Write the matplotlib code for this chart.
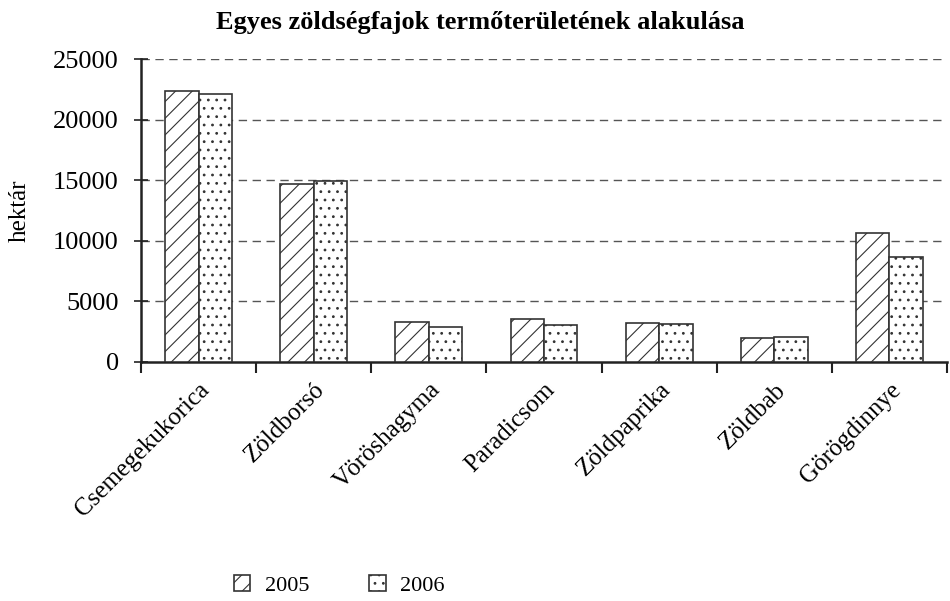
import numpy as np
import matplotlib
matplotlib.use("Agg")
import matplotlib.pyplot as plt

# adatok
kategoriak = ["Csemegekukorica", "Zöldborsó", "Vöröshagyma", "Paradicsom",
              "Zöldpaprika", "Zöldbab", "Görögdinnye"]
ev_2005 = [22400, 14700, 3300, 3550, 3250, 1950, 10650]
ev_2006 = [22100, 14900, 2900, 3050, 3100, 2050, 8650]
yticks = [0, 5000, 10000, 15000, 20000, 25000]

plt.rcParams["font.family"] = ["Liberation Serif", "DejaVu Serif"]
plt.rcParams["hatch.linewidth"] = 0.8
plt.rcParams["hatch.color"] = "#222222"

fig = plt.figure(figsize=(9.5, 6.01), dpi=100)
ax = fig.add_axes([0.1484, 0.3977, 0.8484, 0.5041])

x = np.arange(len(kategoriak))
w = 0.29
ax.bar(x - w / 2, ev_2005, w, facecolor="white", edgecolor="#333333",
       linewidth=1.2, hatch="//", label="2005", zorder=3)
ax.bar(x + w / 2, ev_2006, w, facecolor="white", edgecolor="#333333",
       linewidth=1.2, hatch="..", label="2006", zorder=3)

ax.set_xlim(-0.5, len(kategoriak) - 0.5)
ax.set_ylim(0, 25000)
ax.set_yticks(yticks)
ax.set_yticklabels([str(v) for v in yticks], fontsize=19)

# kategória határok mint tickek
ax.set_xticks(np.arange(len(kategoriak) + 1) - 0.5)
ax.set_xticklabels([])
ax.set_xticks(x, minor=True)
ax.set_xticklabels(kategoriak, minor=True, rotation=45, ha="right",
                   rotation_mode="anchor", fontsize=18)
ax.tick_params(axis="x", which="minor", length=0, pad=12)
ax.tick_params(axis="x", which="major", direction="out", length=8, width=1.5,
               color="#222222")
ax.tick_params(axis="y", direction="inout", length=10, width=1.2,
               color="#222222", pad=11)

for y in yticks[1:]:
    ax.axhline(y, color="#555555", linestyle=(0, (6, 4)), linewidth=1.0, zorder=1)

ax.spines["top"].set_visible(False)
ax.spines["right"].set_visible(False)
ax.spines["left"].set_linewidth(1.8)
ax.spines["bottom"].set_linewidth(1.8)
ax.spines["left"].set_color("#222222")
ax.spines["bottom"].set_color("#222222")

ax.set_ylabel("hektár", fontsize=18, labelpad=16)
fig.suptitle("Egyes zöldségfajok termőterületének alakulása",
             x=0.506, y=0.982, fontsize=19, fontweight="bold")

fig.legend(loc="lower center", bbox_to_anchor=(0.357, -0.025), ncol=2,
           frameon=False, fontsize=16, handlelength=0.75, handleheight=0.75,
           handletextpad=0.64, columnspacing=2.7)

fig.savefig("out.png", dpi=100)
